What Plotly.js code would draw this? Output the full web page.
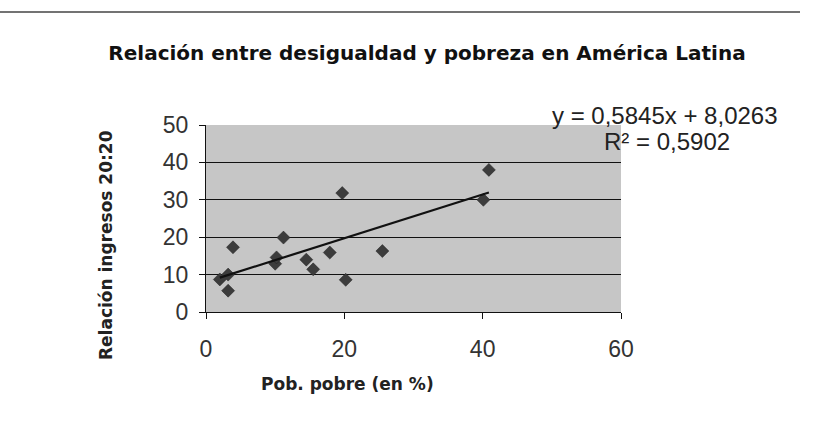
<!DOCTYPE html>
<html>
<head>
<meta charset="utf-8">
<script src="https://cdn.plot.ly/plotly-3.0.1.min.js"></script>
<style>html,body{margin:0;padding:0;background:#fff;}#chart{width:825px;height:445px;}</style>
</head>
<body>
<div id="chart"></div>
<script>
// Data
const pobPobre = [2.0, 3.2, 3.2, 3.9, 10.0, 10.2, 11.2, 14.5, 15.5, 17.9, 19.7, 20.2, 25.5, 40.1, 40.9];
const relacion = [8.7, 10.0, 5.7, 17.3, 12.9, 14.6, 19.9, 14.0, 11.4, 15.9, 31.8, 8.6, 16.3, 30.0, 38.0];
const trendSlope = 0.5845;
const trendIntercept = 8.0263;
const trendR2 = 0.5902;
const xTicks = [0, 20, 40, 60];
const yTicks = [0, 10, 20, 30, 40, 50];
const chartTitle = 'Relación entre desigualdad y pobreza en América Latina';
const xTitle = 'Pob. pobre (en %)';
const yTitle = 'Relación ingresos 20:20';
const eqText = 'y = 0,5845x + 8,0263';
const r2Text = 'R² = 0,5902';

const trendX = [Math.min(...pobPobre), Math.max(...pobPobre)];
const trendY = trendX.map(v => trendSlope * v + trendIntercept);

const L = 206, R = 621, T = 125, B = 312, W = 825, H = 445;
const pw = R - L, ph = B - T;
const px = v => (v - L) / pw;
const py = v => (B - v) / ph;

const traces = [
  {x: pobPobre, y: relacion, type: 'scatter', mode: 'markers',
   marker: {symbol: 'diamond', size: 10, color: '#3c3c3c', line: {color: '#222', width: 0.5}},
   hoverinfo: 'none'},
  {x: trendX, y: trendY, type: 'scatter', mode: 'lines',
   line: {color: '#111', width: 2.2}, hoverinfo: 'none'}
];

const tickFont = {family: 'Liberation Sans, Arial, sans-serif', size: 23, color: '#333'};
const boldFont = {family: 'DejaVu Sans, sans-serif', size: 17, color: '#222', weight: 'bold'};
const eqFont = {family: 'Liberation Sans, Arial, sans-serif', size: 24, color: '#222'};

const layout = {
  width: W, height: H,
  margin: {l: L, r: W - R, t: T, b: H - B, pad: 0},
  paper_bgcolor: '#ffffff',
  plot_bgcolor: '#c6c6c6',
  showlegend: false,
  xaxis: {range: [0, 60], tickvals: xTicks, ticktext: xTicks.map(String),
    showgrid: false, zeroline: false, showline: true, linecolor: '#111', linewidth: 1,
    ticks: 'outside', ticklen: 6, tickcolor: '#111', tickfont: tickFont, ticklabelstandoff: 10},
  yaxis: {range: [0, 50], tickvals: yTicks, ticktext: yTicks.map(String),
    showgrid: true, gridcolor: '#111', gridwidth: 1, zeroline: false,
    showline: true, linecolor: '#111', linewidth: 1,
    ticks: 'outside', ticklen: 6, tickcolor: '#111', tickfont: tickFont, ticklabelstandoff: 6},
  title: {text: chartTitle, xref: 'paper', x: px(427), xanchor: 'center',
    yref: 'container', y: 1 - 53 / H, yanchor: 'middle',
    font: {family: 'DejaVu Sans, sans-serif', size: 20, color: '#111', weight: 'bold'}},
  annotations: [
    {text: xTitle, xref: 'paper', yref: 'paper', x: px(347), y: py(384), showarrow: false,
     xanchor: 'center', yanchor: 'middle', font: boldFont},
    {text: yTitle, xref: 'paper', yref: 'paper', x: px(106), y: py(245), showarrow: false,
     textangle: -90, xanchor: 'center', yanchor: 'middle', font: boldFont},
    {text: eqText, xref: 'paper', yref: 'paper', x: px(665), y: py(115), showarrow: false,
     xanchor: 'center', yanchor: 'middle', font: eqFont},
    {text: r2Text, xref: 'paper', yref: 'paper', x: px(667), y: py(141), showarrow: false,
     xanchor: 'center', yanchor: 'middle', font: eqFont}
  ],
  shapes: [
    {type: 'line', xref: 'paper', yref: 'paper', x0: px(0), x1: px(800), y0: py(12), y1: py(12),
     line: {color: '#444', width: 1.5}}
  ]
};

Plotly.newPlot('chart', traces, layout, {staticPlot: true, displayModeBar: false});
</script>
</body>
</html>
